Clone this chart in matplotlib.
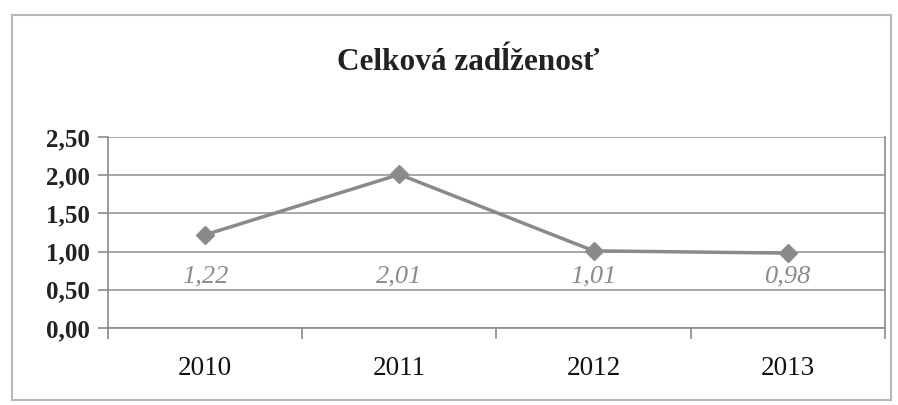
import matplotlib.pyplot as plt
from matplotlib.patches import Rectangle

# data
years = ['2010', '2011', '2012', '2013']
values = [1.22, 2.01, 1.01, 0.98]
value_labels = ['1,22', '2,01', '1,01', '0,98']
y_ticks = [0.0, 0.5, 1.0, 1.5, 2.0, 2.5]
y_tick_labels = ['0,00', '0,50', '1,00', '1,50', '2,00', '2,50']

plt.rcParams['font.family'] = ['Liberation Serif', 'DejaVu Serif']

fig = plt.figure(figsize=(8.98, 4.05), dpi=100)
fig.patches.append(Rectangle((12 / 898, 5 / 405), 879 / 898, 385 / 405,
                             transform=fig.transFigure, fill=False,
                             edgecolor='#b8b8b8', linewidth=1.5))

ax = fig.add_axes([108 / 898, 1 - 328 / 405, 777 / 898, 191 / 405])
x = list(range(len(years)))
ax.plot(x, values, color='#8a8a8a', linewidth=2.5, marker='D',
        markersize=9, markerfacecolor='#8a8a8a', markeredgecolor='#8a8a8a',
        zorder=3)

# labels in the original all sit at about the same height
for xi, lab in zip(x, value_labels):
    ax.text(xi, 0.68, lab, ha='center', va='center', fontsize=19,
            style='italic', color='#8a8a8a')

ax.set_xlim(-0.5, len(years) - 0.5)
ax.set_ylim(0, 2.5)
ax.set_yticks(y_ticks)
ax.set_yticklabels(y_tick_labels, fontsize=18, fontweight='bold', color='#222222')
ax.yaxis.grid(True, color='#9a9a9a', linewidth=1.2)
ax.set_axisbelow(True)

# category ticks at boundaries, labels at centres
ax.set_xticks([i - 0.5 for i in range(len(years) + 1)])
ax.set_xticklabels([])
ax.set_xticks(x, minor=True)
ax.set_xticklabels(years, minor=True, fontsize=19.5, color='#111111')
ax.tick_params(axis='x', which='minor', length=0, pad=20)
ax.tick_params(axis='x', which='major', length=8, color='#8a8a8a', width=1.2)
ax.tick_params(axis='y', length=7, color='#8a8a8a', width=1.2, pad=6)

for side in ['left', 'bottom', 'right', 'top']:
    ax.spines[side].set_color('#8a8a8a')
    ax.spines[side].set_linewidth(1.2)
ax.spines['top'].set_visible(False)

fig.text(468 / 898, 1 - 62 / 405, 'Celková zadĺženosť', ha='center', va='center',
         fontsize=22.5, fontweight='bold', color='#222222')

fig.savefig('out.png', dpi=100, facecolor='white')
